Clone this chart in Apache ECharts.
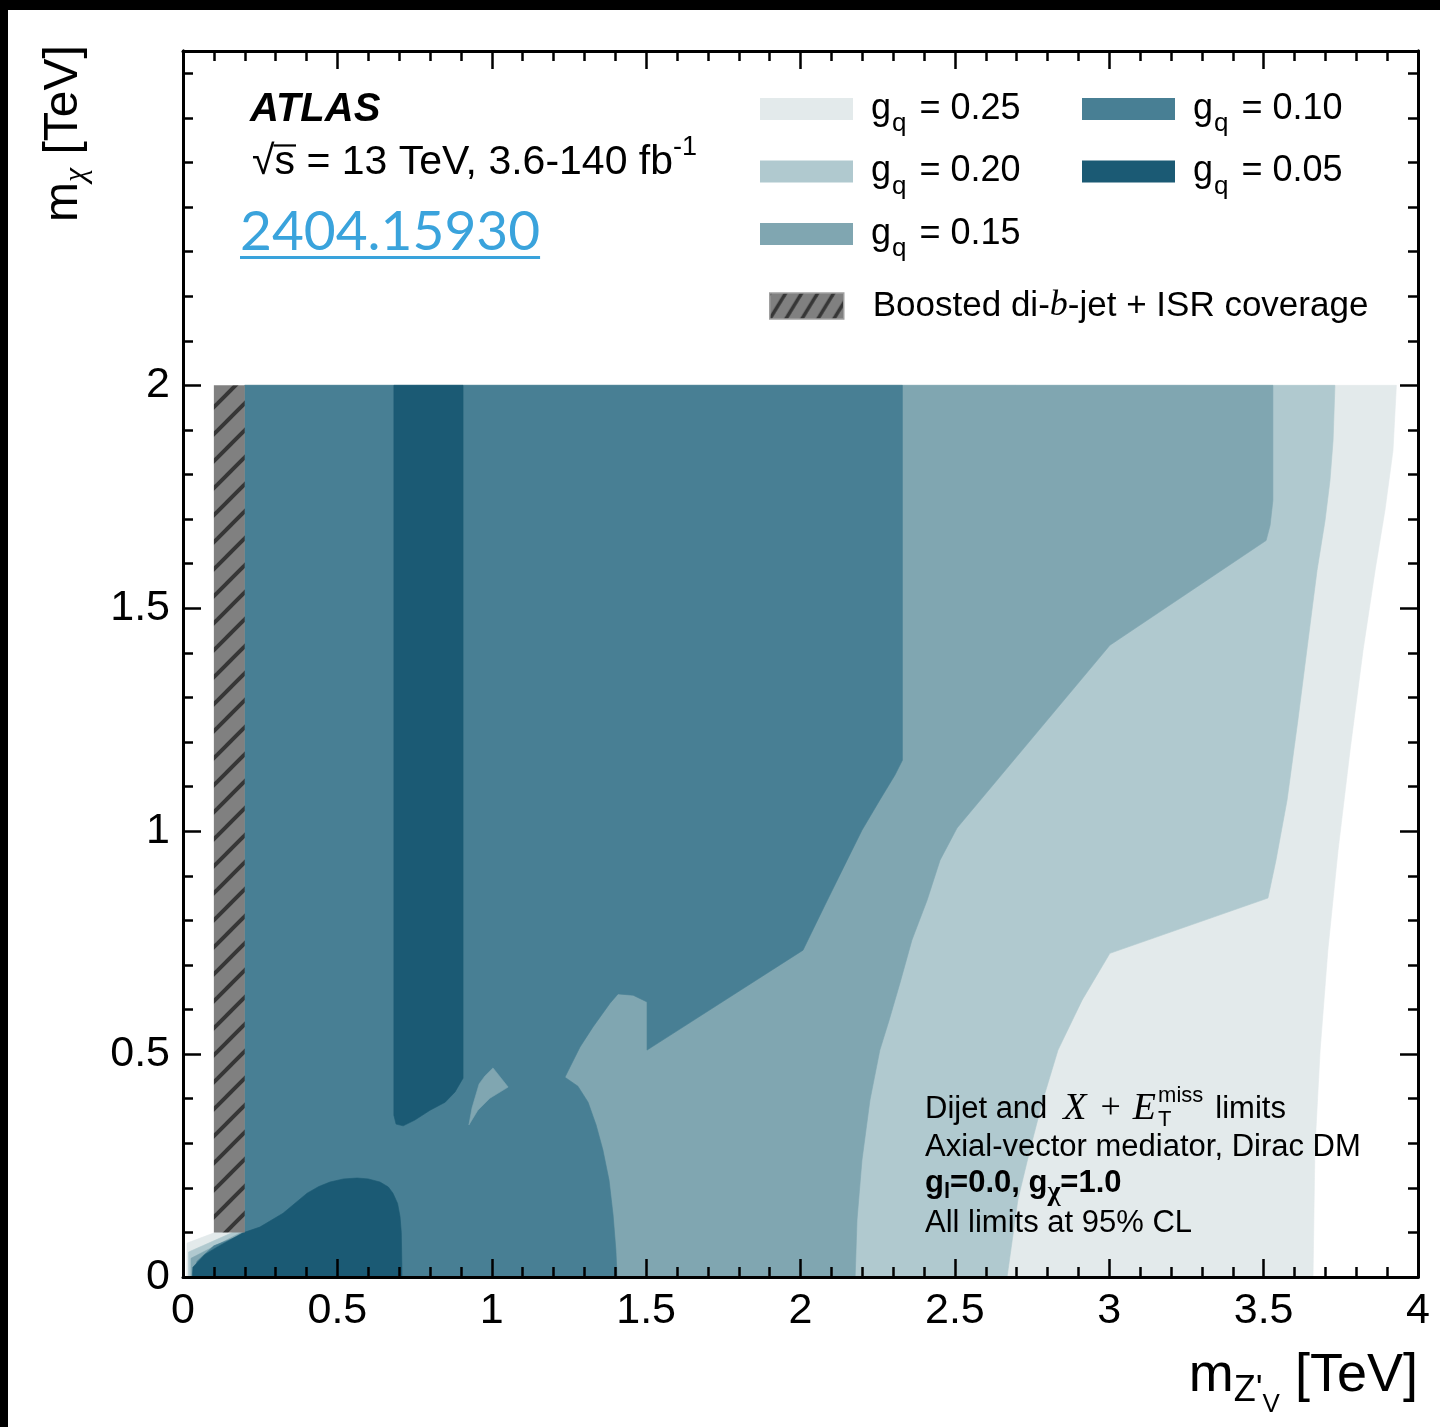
<!DOCTYPE html>
<html>
<head>
<meta charset="utf-8">
<script src="https://cdn.jsdelivr.net/npm/echarts@6/dist/echarts.min.js"></script>
<style>
  html, body { margin: 0; padding: 0; background: #fff; }
  #chart { width: 1440px; height: 1427px; }
</style>
</head>
<body>
<div id="chart"></div>
<script>
// ---- Tick values ----
const xTicks = [0, 0.5, 1, 1.5, 2, 2.5, 3, 3.5, 4];
const yTicks = [0, 0.5, 1, 1.5, 2];

// ---- Excluded regions, [m_Z'V (TeV), m_chi (TeV)] polygon vertices ----
const gq025 = [
  [0.2, 2.0], [3.93, 2.0], [3.919, 1.854], [3.893, 1.72], [3.861, 1.585], [3.822, 1.406],
  [3.78, 1.182], [3.741, 0.957], [3.708, 0.733], [3.683, 0.509], [3.666, 0.285], [3.66, 0],
  [0.012, 0], [0.013, 0.076], [0.2, 0.125]
];
const gq020 = [
  [0.2, 2.0], [3.731, 2.0], [3.725, 1.877], [3.715, 1.787], [3.699, 1.697], [3.673, 1.585],
  [3.644, 1.428], [3.611, 1.249], [3.576, 1.07], [3.54, 0.935], [3.514, 0.85], [3.002, 0.726],
  [2.912, 0.621], [2.834, 0.509], [2.785, 0.397], [2.743, 0.285], [2.704, 0.173], [2.669, 0],
  [0.018, 0], [0.018, 0.056], [0.2, 0.112]
];
const gq015 = [
  [0.2, 2.0], [3.53, 2.0], [3.53, 1.742], [3.521, 1.686], [3.508, 1.652], [3.002, 1.417],
  [2.507, 1.007], [2.452, 0.935], [2.41, 0.845], [2.361, 0.756], [2.322, 0.659], [2.287, 0.576],
  [2.257, 0.509], [2.225, 0.397], [2.199, 0.262], [2.183, 0.128], [2.177, 0],
  [0.026, 0], [0.026, 0.042], [0.2, 0.104]
];
const gq015Island = [
  [1.004, 0.469], [1.053, 0.426], [0.994, 0.401], [0.955, 0.374], [0.926, 0.341],
  [0.936, 0.379], [0.959, 0.433], [0.978, 0.451]
];
const gq010 = [
  [0.2, 2.0], [2.33, 2.0], [2.33, 1.159], [2.306, 1.126], [2.257, 1.07], [2.199, 1.002],
  [2.151, 0.935], [2.079, 0.834], [2.008, 0.733], [1.503, 0.509], [1.503, 0.617], [1.458, 0.632],
  [1.409, 0.635], [1.383, 0.614], [1.328, 0.561], [1.286, 0.516], [1.26, 0.48], [1.237, 0.448],
  [1.279, 0.428], [1.312, 0.392], [1.338, 0.341], [1.36, 0.285], [1.38, 0.217], [1.393, 0.139],
  [1.402, 0.061], [1.406, 0], [0.04, 0], [0.045, 0.035], [0.1, 0.07], [0.2, 0.097]
];
const gq005Band = [
  [0.683, 2.0], [0.907, 2.0], [0.907, 0.446], [0.881, 0.415], [0.849, 0.392], [0.8, 0.374],
  [0.751, 0.352], [0.713, 0.339], [0.69, 0.343], [0.683, 0.363]
];
const gq005Low = [
  [0.03, 0], [0.032, 0.022], [0.07, 0.05], [0.11, 0.067], [0.194, 0.099], [0.249, 0.112],
  [0.324, 0.143], [0.402, 0.188], [0.44, 0.203], [0.476, 0.213], [0.52, 0.22], [0.564, 0.222],
  [0.6, 0.22], [0.638, 0.213], [0.665, 0.202], [0.68, 0.188], [0.695, 0.165], [0.703, 0.135],
  [0.707, 0.1], [0.709, 0.022], [0.709, 0]
];
const boostedHatch = [[0.1, 0.1], [0.1, 2.0], [0.2, 2.0], [0.2, 0.1]];

// ---- Names and colours ----
const N25 = 'g_q = 0.25', N20 = 'g_q = 0.20', N15 = 'g_q = 0.15', N10 = 'g_q = 0.10', N05 = 'g_q = 0.05';
const NHATCH = 'Boosted di-b-jet + ISR coverage';
const colors = { [N25]: '#e3eaeb', [N20]: '#b0c9cf', [N15]: '#80a6b1', [N10]: '#487f94', [N05]: '#1b5a74' };

const SANS = "'Liberation Sans', Arial, Helvetica, sans-serif";
const SERIF = "'Liberation Serif', 'DejaVu Serif', serif";

// Diagonal hatch fill built on a small canvas tile
function hatchPattern(w, h, bg, fg, lw) {
  const c = document.createElement('canvas');
  c.width = w; c.height = h;
  const g = c.getContext('2d');
  g.fillStyle = bg; g.fillRect(0, 0, w, h);
  g.strokeStyle = fg; g.lineWidth = lw;
  for (const s of [-w, 0, w]) {
    g.beginPath(); g.moveTo(s - w, 2 * h); g.lineTo(s + 2 * w, -h); g.stroke();
  }
  return { image: c, repeat: 'repeat' };
}
const plotHatch = hatchPattern(27, 27, '#808080', '#363636', 4);
const legendHatch = hatchPattern(16, 26, '#808080', '#363636', 3.5);

// One filled polygon per series, projected through the cartesian axes
function polySeries(name, pts, fill, z) {
  return {
    type: 'custom', name, data: pts, z: z || 2, clip: true, silent: true,
    itemStyle: { color: fill },
    renderItem(params, api) {
      if (params.context.rendered) return;
      params.context.rendered = true;
      const points = pts.map(p => api.coord(p));
      const solid = typeof fill === 'string';
      return {
        type: 'polygon', shape: { points },
        style: { fill, stroke: solid ? fill : null, lineWidth: solid ? 0.6 : 0 }
      };
    }
  };
}

// ---- Free text laid out in runs (sub/superscripts) ----
const ctx2d = document.createElement('canvas').getContext('2d');
function fontOf(p) {
  return (p.italic ? 'italic ' : '') + (p.bold ? 'bold ' : '') + p.size + 'px ' + (p.family || SANS);
}
function widthOf(p) { ctx2d.font = fontOf(p); return ctx2d.measureText(p.t).width; }
function textEl(p, x, y) {
  return {
    type: 'text', x, y: y + (p.dy || 0), z: 100, silent: true,
    style: {
      text: p.t, fontSize: p.size, fontFamily: p.family || SANS,
      fontStyle: p.italic ? 'italic' : 'normal', fontWeight: p.bold ? 'bold' : 'normal',
      fill: p.fill || '#000', align: 'left', verticalAlign: 'middle',
      textAlign: 'left', textVerticalAlign: 'middle'
    }
  };
}
function partWidth(p) {
  const core = p.stack ? Math.max(...p.stack.map(widthOf)) : widthOf(p);
  return (p.pad || 0) + core + (p.padR || 0);
}
function textRun(x, y, parts, alignRight) {
  const total = parts.reduce((a, p) => a + partWidth(p), 0);
  let cx = alignRight ? x - total : x;
  const els = [];
  for (const p of parts) {
    const px = cx + (p.pad || 0);
    if (p.stack) p.stack.forEach(s => els.push(textEl(s, px, y)));
    else els.push(textEl(p, px, y));
    cx += partWidth(p);
  }
  return els;
}

const linkParts = [{ t: '2404.15930', size: 55, family: "Lato, 'Open Sans', sans-serif", fill: '#3aa3dc' }];
const linkWidth = widthOf(linkParts[0]);

// radical bar over the "s" of sqrt(s)
const energySize = 41, energyMid = 163;
const rootW = widthOf({ t: '√', size: energySize }), sW = widthOf({ t: 's', size: energySize });

const graphics = [
  // frame strips along the top and left edges
  { type: 'rect', z: 100, silent: true, shape: { x: 0, y: 0, width: 1440, height: 10 }, style: { fill: '#000' } },
  { type: 'rect', z: 100, silent: true, shape: { x: 0, y: 0, width: 8, height: 1427 }, style: { fill: '#000' } },
  ...textRun(250, 110, [{ t: 'ATLAS', size: 40, bold: true, italic: true }]),
  ...textRun(252, energyMid, [{ t: '√s = 13 TeV, 3.6-140 fb', size: energySize }, { t: '-1', size: 27, dy: -15 }]),
  {
    type: 'rect', z: 100, silent: true,
    shape: { x: 252 + rootW - 1, y: energyMid - 0.43 * energySize - 1, width: sW + 2, height: 2.2 },
    style: { fill: '#000' }
  },
  ...textRun(240, 232, linkParts),
  { type: 'rect', z: 100, silent: true, shape: { x: 240, y: 256, width: linkWidth, height: 3 }, style: { fill: '#3aa3dc' } },
  ...textRun(925, 1109, [
    { t: 'Dijet and', size: 31 },
    { t: 'X', size: 38, family: SERIF, italic: true, pad: 16 },
    { t: '+', size: 36, family: SERIF, pad: 14, padR: 12 },
    { t: 'E', size: 38, family: SERIF, italic: true },
    { stack: [{ t: 'miss', size: 22, dy: -13 }, { t: 'T', size: 22, dy: 11 }], pad: 2 },
    { t: 'limits', size: 31, pad: 12 }
  ]),
  ...textRun(925, 1147, [{ t: 'Axial-vector mediator, Dirac DM', size: 31 }]),
  ...textRun(925, 1183, [
    { t: 'g', size: 31, bold: true }, { t: 'l', size: 22, bold: true, dy: 9 },
    { t: '=0.0, g', size: 31, bold: true }, { t: 'χ', size: 28, bold: true, family: SERIF, dy: 10 },
    { t: '=1.0', size: 31, bold: true }
  ]),
  ...textRun(925, 1223, [{ t: 'All limits at 95% CL', size: 31 }]),
  // axis titles
  ...textRun(1418, 1376, [
    { t: 'm', size: 54 }, { t: "Z'", size: 36, dy: 15 }, { t: 'V', size: 26, dy: 29 }, { t: ' [TeV]', size: 54 }
  ], true),
  {
    type: 'group', x: 64, y: 222, rotation: Math.PI / 2, z: 100,
    children: textRun(0, 0, [
      { t: 'm', size: 48 }, { t: 'χ', size: 32, family: SERIF, italic: true, dy: 13 }, { t: ' [TeV]', size: 48 }
    ])
  }
];

// ---- Legends ----
const gqRich = {
  g: { fontFamily: SANS, fontSize: 36, lineHeight: 36, verticalAlign: 'middle', padding: [0, 0, 0, 13] },
  q: { fontFamily: SANS, fontSize: 26, lineHeight: 56, verticalAlign: 'bottom', padding: [30, 0, 0, 1] },
  v: { fontFamily: SANS, fontSize: 36, lineHeight: 36, verticalAlign: 'middle', padding: [0, 0, 0, 3] }
};
const gqFormatter = name => '{g|g}{q|q}{v| = ' + name.split('= ')[1] + '}';
function gqLegend(left, names) {
  return {
    orient: 'vertical', left, top: 81, padding: 0, itemWidth: 93, itemHeight: 22, itemGap: 6.5,
    icon: 'rect', selectedMode: false, data: names, formatter: gqFormatter,
    textStyle: { fontFamily: SANS, fontSize: 36, color: '#000', rich: gqRich }
  };
}

const axisLineStyle = { show: true, onZero: false, lineStyle: { color: '#000', width: 3 } };
const tickStyle = { color: '#000', width: 2.5 };
const labelStyle = { fontFamily: SANS, fontSize: 43, color: '#000' };

function xAxisDef(pos, labels) {
  return {
    type: 'value', position: pos, min: 0, max: 4, interval: 0.5, z: 10,
    axisLine: axisLineStyle, splitLine: { show: false },
    axisTick: { show: true, inside: true, length: 18, customValues: xTicks, lineStyle: tickStyle },
    minorTick: { show: true, splitNumber: 5, length: 10, lineStyle: tickStyle },
    axisLabel: labels ? Object.assign({ show: true, margin: 13, customValues: xTicks }, labelStyle) : { show: false }
  };
}
function yAxisDef(pos, major, labels) {
  return {
    type: 'value', position: pos, min: 0, max: 2.75, interval: major ? 0.5 : 0.1, z: 10,
    axisLine: axisLineStyle, splitLine: { show: false },
    axisTick: major
      ? { show: true, inside: true, length: 18, customValues: yTicks, lineStyle: tickStyle }
      : { show: true, inside: true, length: 10, lineStyle: tickStyle },
    axisLabel: labels ? Object.assign({ show: true, margin: 13, customValues: yTicks }, labelStyle) : { show: false }
  };
}

const chart = echarts.init(document.getElementById('chart'), null, { renderer: 'canvas' });
chart.setOption({
  animation: false,
  backgroundColor: '#fff',
  grid: { left: 183, right: 22, top: 51, bottom: 150, containLabel: false },
  xAxis: [xAxisDef('bottom', true), xAxisDef('top', false)],
  yAxis: [yAxisDef('left', true, true), yAxisDef('left', false, false), yAxisDef('right', true, false), yAxisDef('right', false, false)],
  legend: [
    gqLegend(760, [N25, N20, N15]),
    gqLegend(1082, [N10, N05]),
    {
      left: 769, top: 288, padding: 0, itemWidth: 74, itemHeight: 26, icon: 'rect', selectedMode: false,
      data: [{ name: NHATCH, itemStyle: { color: legendHatch, borderColor: '#a0a0a0', borderWidth: 1.5 } }],
      formatter: () => '{p0|Boosted di-}{b|b}{p|-jet + ISR coverage}',
      textStyle: {
        fontFamily: SANS, fontSize: 35, color: '#000',
        rich: {
          p0: { fontFamily: SANS, fontSize: 35, lineHeight: 40, padding: [0, 0, 0, 24] },
          b: { fontFamily: SERIF, fontStyle: 'italic', fontSize: 36, lineHeight: 40 },
          p: { fontFamily: SANS, fontSize: 35, lineHeight: 40 }
        }
      }
    }
  ],
  series: [
    polySeries(N25, gq025, colors[N25]),
    polySeries(N20, gq020, colors[N20]),
    polySeries(N15, gq015, colors[N15]),
    polySeries(N10, gq010, colors[N10]),
    polySeries(N15, gq015Island, colors[N15]),
    polySeries(N05, gq005Band, colors[N05]),
    polySeries(N05, gq005Low, colors[N05]),
    polySeries(NHATCH, boostedHatch, plotHatch, 3)
  ],
  graphic: graphics
});
</script>
</body>
</html>
